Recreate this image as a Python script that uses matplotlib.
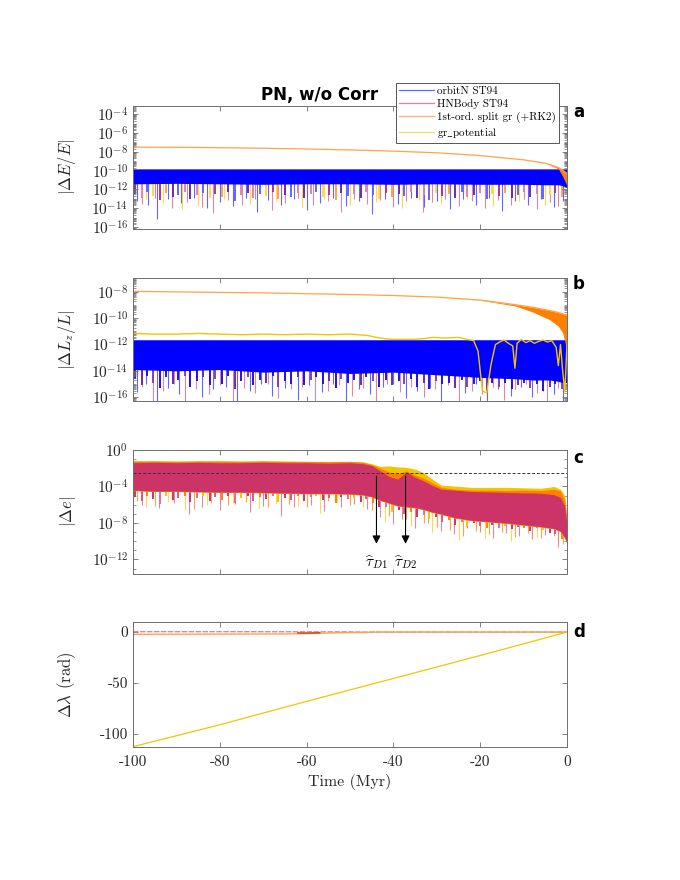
import numpy as np
import matplotlib
matplotlib.use('Agg')
import matplotlib.pyplot as plt
from matplotlib.ticker import FixedLocator, FuncFormatter, LogLocator, NullFormatter
from matplotlib.lines import Line2D

plt.rcParams['mathtext.fontset'] = 'cm'
plt.rcParams['font.family'] = 'cmr10'
plt.rcParams['axes.unicode_minus'] = False
plt.rcParams['axes.formatter.use_mathtext'] = True

# ---------------- data (log10 values) ----------------
SERIES = ['orbitN ST94', 'HNBody ST94', '1st-ord. split gr (+RK2)', 'gr$\\_$potential']
XTICKS = [-100, -80, -60, -40, -20, 0]

# shared time stamps of the dense noise fringe below the bands
FRINGE_T = [-99.5, -98, -96.8, -95.5, -93.7, -92.5, -90.8, -89.6, -88, -86.8, -85.2, -83.9, -82.3, -81, -79.4,
            -78.1, -76.5, -75.2, -73.6, -72.3, -70.7, -69.4, -67.8, -66.5, -64.9, -63.6, -62, -60.7, -59.1,
            -57.8, -56.2, -54.9, -53.3, -52, -50.4, -49.1, -47.5, -46.2, -44.6, -43.3, -41.7, -40.4, -38.8,
            -37.5, -35.9, -34.6, -33, -31.7, -30.1, -28.8, -27.2, -25.9, -24.3, -23, -21.4, -20.1, -18.5,
            -17.2, -15.6, -14.3, -12.7, -11.4, -9.8, -8.5, -6.9, -5.6, -4, -2.7, -1.1]

# panel a : |dE/E|
A_T = [-100, -90, -80, -70, -60, -50, -40, -30, -20, -10, -5, -2, -1, 0]
A_ORANGE_UP = [-7.50, -7.52, -7.56, -7.62, -7.70, -7.80, -7.93, -8.10, -8.40, -8.85, -9.20, -9.65, -9.95, -10.3]
A_ORANGE_LO = [-7.50, -7.52, -7.56, -7.62, -7.70, -7.80, -7.93, -8.10, -8.40, -8.85, -9.22, -9.80, -10.6, -11.6]
A_BLUE_TOP = [-9.78, -9.78, -9.78, -9.78, -9.78, -9.78, -9.78, -9.78, -9.78, -9.78, -9.78, -9.78, -9.78, -9.78]
A_BLUE_BOT = [-11.4, -11.35, -11.4, -11.45, -11.4, -11.4, -11.45, -11.4, -11.45, -11.45, -11.5, -11.5, -11.6, -11.8]
A_FRINGE_D = [-12.5, -12.9, -12.3, -12.7, -13.1, -12.4, -12.8, -12.6, -12.3, -13.0,
              -12.6, -12.4, -12.9, -12.5, -12.8, -12.3, -13.2, -12.6, -12.4, -12.9,
              -12.5, -12.7, -12.3, -13.0, -12.6, -12.8, -12.4, -12.9, -12.5, -12.3,
              -12.8, -12.6, -13.1, -12.4, -12.7, -12.5, -12.9, -12.3, -12.6, -13.0,
              -12.4, -12.8, -12.5, -12.7, -12.3, -12.9, -12.6, -13.1, -12.4, -12.7,
              -12.5, -12.9, -12.3, -12.8, -12.6, -12.4, -13.0, -12.5, -12.7, -12.4,
              -12.9, -12.6, -12.3, -12.8, -12.5, -13.0, -12.6, -12.4, -12.8]
A_BLUE_SPK_T = [-99, -96.5, -94.5, -92, -89, -86, -83, -80, -77, -74, -71.5, -69, -66, -63, -60, -57, -54, -51,
                -48, -45, -42, -39, -36, -33, -30, -27, -24, -21, -18, -15, -12, -9, -6, -3, -1]
A_BLUE_SPK_D = [-13.2, -13.6, -15.1, -13.0, -13.4, -12.9, -14.0, -13.3, -13.8, -12.9, -14.4, -13.1, -13.6, -13.0,
                -14.2, -13.4, -12.9, -13.8, -13.2, -14.6, -13.0, -13.5, -12.9, -13.9, -13.2, -14.1, -13.0, -13.6,
                -12.9, -14.3, -13.2, -13.7, -13.0, -13.9, -13.2]
A_PINK_SPK_T = [-98, -95, -91, -87.5, -84, -81.6, -78, -75, -72, -68, -65, -62, -58.5, -55, -52, -49, -46, -43,
                -40, -37, -33.2, -31, -28, -25, -22, -19, -16, -13, -10, -7, -4, -2]
A_PINK_SPK_D = [-13.5, -12.9, -14.0, -13.3, -13.9, -14.5, -13.1, -13.6, -13.0, -14.2, -13.4, -12.9, -13.7, -13.2,
                -14.4, -13.0, -13.5, -13.1, -13.9, -13.2, -14.4, -13.3, -13.0, -13.8, -13.2, -14.0, -13.1, -13.6,
                -13.0, -14.1, -13.3, -13.8]
A_YEL_SPK_T = [-97, -93, -88.7, -85, -79, -73, -67, -61, -56, -50, -44, -38, -34, -29, -23, -17, -11, -5]
A_YEL_SPK_D = [-13.0, -13.4, -14.1, -13.8, -13.0, -13.5, -13.2, -13.9, -13.0, -13.6, -13.3, -14.0, -13.1, -13.5,
               -13.0, -13.8, -13.2, -13.6]

# panel b : |dLz/L|
B_T = [-100, -90, -80, -70, -60, -50, -40, -30, -20, -12, -8, -4, -2, -1, 0]
B_ORANGE_UP = [-7.94, -7.98, -8.02, -8.06, -8.12, -8.18, -8.26, -8.38, -8.60, -8.95, -9.15, -9.40, -9.55, -9.65, -9.75]
B_ORANGE_LO = [-7.94, -7.98, -8.02, -8.06, -8.12, -8.18, -8.26, -8.38, -8.62, -9.05, -9.50, -10.1, -10.6, -11.1, -12.4]
B_BLUE_TOP = [-11.63, -11.63, -11.63, -11.63, -11.63, -11.63, -11.63, -11.63, -11.63, -11.63, -11.63, -11.63, -11.63, -11.63, -11.63]
B_BLUE_BOT = [-13.9, -14.0, -13.9, -14.1, -14.0, -14.2, -14.1, -14.3, -14.5, -14.6, -14.7, -14.7, -14.8, -14.9, -14.9]
B_FRINGE_D = [-14.6, -15.1, -14.4, -14.9, -15.3, -14.5, -15.0, -14.7, -14.4, -15.2,
              -14.8, -14.5, -15.1, -14.6, -15.0, -14.4, -15.4, -14.8, -14.5, -15.1,
              -14.7, -14.9, -14.4, -15.2, -14.8, -15.0, -14.5, -15.1, -14.7, -14.5,
              -15.0, -14.8, -15.3, -14.6, -14.9, -14.7, -15.1, -14.5, -14.8, -15.2,
              -14.7, -15.1, -14.8, -15.0, -14.6, -15.2, -14.9, -15.4, -14.8, -15.0,
              -14.9, -15.3, -14.7, -15.2, -15.0, -14.8, -15.5, -14.9, -15.2, -14.9,
              -15.4, -15.1, -14.9, -15.3, -15.0, -15.5, -15.2, -15.0, -15.4]
B_YEL_T = [-100, -95, -90, -85, -80, -75, -70, -65, -60, -55, -50, -46, -44, -42, -40, -36, -33, -31, -28, -25,
           -23, -21.5, -20.5, -19.5, -18.5, -17.5, -16.5, -15.5, -14.5, -13.5, -12.5, -12, -11.5, -10.5, -9.5,
           -8.5, -7.5, -6.5, -5.5, -4.5, -3.5, -2.5, -2, -1.5, -1, -0.5, 0]
B_YEL_V = [-11.15, -11.2, -11.2, -11.15, -11.2, -11.25, -11.2, -11.25, -11.2, -11.25, -11.2, -11.3, -11.45, -11.55,
           -11.6, -11.6, -11.55, -11.45, -11.5, -11.45, -11.6, -11.7, -12.5, -15.5, -15.7, -13.5, -12.0, -11.8,
           -11.65, -11.9, -12.1, -13.8, -11.9, -11.6, -11.85, -11.7, -11.9, -11.75, -11.65, -11.8, -11.7, -12.2,
           -13.6, -12.0, -14.0, -15.6, -12.0]
B_BLUE_SPK_T = [-99, -97, -94.5, -92, -89.5, -87, -84, -81.5, -78.5, -76, -73, -70.5, -68, -65, -62, -59.5, -56.5,
                -54, -51, -48, -45.5, -42.5, -40, -37, -34.5, -31.5, -29, -26, -23.5, -21, -18.5, -16, -13, -10.5,
                -8, -5.5, -3, -1]
B_BLUE_SPK_D = [-15.6, -15.0, -16.3, -15.3, -15.8, -15.1, -16.0, -15.4, -15.2, -16.3, -15.5, -15.0, -15.9, -15.3,
                -16.2, -15.1, -15.6, -15.0, -16.3, -15.4, -15.8, -15.2, -15.0, -16.1, -15.5, -15.3, -16.3, -15.2,
                -15.7, -15.0, -16.3, -15.4, -15.9, -15.2, -16.0, -15.5, -15.8, -16.3]
B_PINK_SPK_T = [-98, -95.5, -93, -90.5, -88, -85.5, -82.5, -80, -77, -74.5, -72, -69, -66.5, -63.5, -61, -58, -55,
                -52.5, -49.5, -47, -44, -41.5, -38.5, -36, -33, -30.5, -27.5, -25, -22, -19.5, -17, -14.5, -12,
                -9.5, -7, -4.5, -2]
B_PINK_SPK_D = [-15.2, -16.3, -15.5, -15.0, -16.3, -15.4, -15.8, -15.1, -16.3, -15.3, -15.7, -15.0, -16.1, -15.4,
                -15.2, -16.3, -15.5, -15.1, -15.9, -15.3, -16.3, -15.0, -15.6, -15.2, -16.0, -15.4, -15.1, -16.3,
                -15.5, -15.8, -15.2, -16.2, -15.4, -15.0, -15.7, -16.3, -15.3]

# panel c : |de|
C_T = [-100, -95, -90, -85, -80, -75, -70, -65, -60, -55, -50, -47, -45, -43, -41, -39, -37, -35, -33, -31, -29,
       -26, -22, -18, -14, -10, -6, -3, -1.5, -0.5, 0]
C_CRIM_TOP = [-1.4, -1.35, -1.4, -1.35, -1.4, -1.4, -1.35, -1.4, -1.4, -1.45, -1.4, -1.5, -1.7, -2.3, -2.9, -3.2,
              -2.4, -3.0, -3.4, -3.9, -4.3, -4.4, -4.55, -4.6, -4.65, -4.7, -4.75, -4.9, -5.2, -6.2, -8.4]
C_CRIM_BOT = [-4.4, -4.5, -4.5, -4.55, -4.6, -4.6, -4.65, -4.7, -4.75, -4.75, -4.8, -4.9, -5.1, -5.5, -5.8, -6.1,
              -6.2, -6.3, -6.5, -6.8, -7.0, -7.4, -7.7, -7.85, -8.0, -8.2, -8.4, -8.6, -8.9, -9.6, -10.2]
C_ORNG_TOP = [-1.2, -1.2, -1.25, -1.2, -1.2, -1.25, -1.2, -1.25, -1.25, -1.3, -1.25, -1.35, -1.6, -2.0, -2.4, -2.6,
              -2.3, -2.75, -3.1, -3.6, -4.1, -4.3, -4.4, -4.4, -4.45, -4.4, -4.45, -4.3, -4.5, -5.5, -7.7]
C_YEL_TOP = [-1.2, -1.2, -1.2, -1.2, -1.2, -1.2, -1.2, -1.2, -1.25, -1.25, -1.25, -1.3, -1.5, -1.8, -1.75, -1.85,
             -1.9, -2.1, -2.5, -3.2, -3.85, -3.95, -4.1, -4.1, -4.1, -4.15, -4.2, -4.0, -4.3, -5.0, -7.7]
C_LOW_BOT = [-4.45, -4.55, -4.55, -4.6, -4.65, -4.65, -4.7, -4.75, -4.8, -4.8, -4.85, -4.95, -5.15, -5.55, -5.85,
             -6.15, -6.25, -6.35, -6.55, -6.85, -7.05, -7.45, -7.75, -7.9, -8.05, -8.25, -8.45, -8.65, -8.95, -9.7, -10.3]
C_FRINGE_D = [-5.2, -5.6, -5.0, -5.4, -5.9, -5.1, -5.5, -5.3, -5.0, -5.7,
              -5.3, -5.1, -5.6, -5.2, -5.5, -5.0, -5.8, -5.3, -5.1, -5.6,
              -5.2, -5.4, -5.0, -5.7, -5.3, -5.5, -5.1, -5.6, -5.2, -5.0,
              -5.5, -5.3, -5.8, -5.2, -5.4, -5.3, -5.7, -5.4, -5.8, -6.3,
              -6.2, -6.8, -6.6, -7.0, -6.8, -7.3, -7.1, -7.6, -7.4, -7.9,
              -7.7, -8.2, -7.9, -8.4, -8.0, -8.3, -8.6, -8.2, -8.5, -8.3,
              -8.7, -8.4, -8.6, -8.9, -8.5, -8.8, -9.1, -9.2, -9.8]
C_PINK_SPK_T = [-98, -94, -90.5, -87, -84, -80, -76.5, -73, -70, -66, -63, -59, -56, -52, -49, -46, -43, -40, -38,
                -35, -32, -29, -26, -23, -20, -17, -14, -11, -8, -5, -2]
C_PINK_SPK_D = [-6.0, -6.4, -5.8, -7.0, -6.2, -6.6, -5.9, -6.8, -6.1, -7.2, -6.3, -6.0, -6.7, -6.2, -5.9, -6.5,
                -7.4, -8.1, -7.6, -8.6, -8.0, -8.9, -9.2, -8.6, -9.0, -9.6, -9.1, -9.4, -9.8, -9.3, -10.5]
C_ORNG_SPK_T = [-99, -95, -91, -86, -82, -78, -74, -69, -64, -60, -55, -50, -45, -41, -37, -33, -30, -27, -24, -21,
                -18, -15, -12, -9, -6, -3, -1]
C_ORNG_SPK_D = [-5.6, -6.1, -5.5, -6.5, -5.8, -6.0, -5.7, -6.3, -5.9, -6.2, -5.6, -6.0, -6.6, -7.2, -7.6, -8.0,
                -8.4, -8.8, -9.4, -8.9, -9.2, -9.0, -9.5, -9.1, -9.7, -9.4, -10.3]
C_YEL_SPK_T = [-97, -92, -88, -83, -77, -71, -67, -62, -57, -53, -47, -42, -36, -31, -25, -19, -13, -7, -2]
C_YEL_SPK_D = [-6.2, -5.7, -6.6, -6.0, -5.8, -6.4, -5.9, -6.1, -6.9, -5.8, -6.3, -7.8, -8.3, -9.0, -9.9, -9.6,
               -10.0, -9.5, -10.8]
C_THRESH = -2.56
C_TAU_T = [-43.9, -37.2]
C_TAU_LABELS = [r'$\widehat{\tau}_{D1}$', r'$\widehat{\tau}_{D2}$']

# panel d : d lambda (rad)
D_YEL_T = [-100, -80, -60, -40, -20, 0]
D_YEL_V = [-112.5, -91.0, -68.0, -45.5, -23.0, 0.0]
D_ORNG_T = [-100, -80, -65, -60, -56, -50, -46, -44, 0]
D_ORNG_V = [-2.2, -2.0, -1.8, -1.5, -1.0, -0.5, -0.3, 0.0, 0.0]
D_PINK_T = [-100, -80, -60, -50, -48, 0]
D_PINK_V = [0.4, 0.4, 0.3, 0.2, 0.0, 0.0]
D_RED_T = [-62, -60, -57]
D_RED_V = [-0.9, -1.0, -0.7]

# ---------------- styling ----------------
BLUE = '#0000ff'
BLUE_L = '#6464ff'
PINK = '#cc3366'
PINK_L = '#df85a8'
ORANGE = '#ff8000'
ORANGE_L = '#ffa347'
YELLOW = '#efc600'
YELLOW_L = '#ffd84d'
PURPLE = '#6a2bb0'
FRAME = '#6e6e6e'
FRINGE_COLORS_A = [PURPLE, PINK_L, BLUE_L, YELLOW_L, '#b0358a', ORANGE_L, PURPLE, BLUE_L, PINK_L]
FRINGE_COLORS_B = ['#2a10d8', PURPLE, '#2a10d8', '#8a3fb0', '#2a10d8']
FRINGE_COLORS_C = [PINK, '#d9577f', ORANGE, PINK, '#e0708f', YELLOW]

W, H = 680.0, 880.0
fig = plt.figure(figsize=(6.8, 8.8), dpi=100)


def add_ax(top, bottom):
    return fig.add_axes([133 / W, 1 - bottom / H, 434 / W, (bottom - top) / H])


axa = add_ax(105.7, 229.0)
axb = add_ax(277.7, 401.0)
axc = add_ax(450.0, 574.0)
axd = add_ax(622.3, 746.7)

P = lambda v: np.power(10.0, np.asarray(v, dtype=float))


def spikes(ax, t, top, d, color, lw=0.8, alpha=1.0, z=1):
    ax.vlines(t, P(top), P(d), colors=color, lw=lw, alpha=alpha, zorder=z)


def cyc(colors, n):
    return [colors[i % len(colors)] for i in range(n)]


# panel a
spikes(axa, A_PINK_SPK_T, -11.0, A_PINK_SPK_D, PINK_L, z=1)
spikes(axa, A_YEL_SPK_T, -11.0, A_YEL_SPK_D, YELLOW_L, z=1.1)
spikes(axa, A_BLUE_SPK_T, -11.0, A_BLUE_SPK_D, BLUE_L, z=1.2)
spikes(axa, FRINGE_T, -11.0, A_FRINGE_D, cyc(FRINGE_COLORS_A, len(FRINGE_T)), lw=1.4, z=1.3)
axa.fill_between(A_T, P(A_BLUE_TOP), P(A_BLUE_BOT), color=BLUE, lw=0, zorder=2)
axa.plot(A_T, P(A_BLUE_TOP), color=PINK_L, lw=0.6, alpha=0.7, zorder=2.1)
axa.fill_between(A_T, P(A_ORANGE_UP), P(A_ORANGE_LO), color=ORANGE, lw=0, zorder=3)
axa.plot(A_T, P(A_ORANGE_UP), color=ORANGE_L, lw=0.9, zorder=3)
axa.set_yscale('log')
axa.set_ylim(10 ** -16.2, 10 ** -3.1)
axa.yaxis.set_major_locator(FixedLocator(P([-16, -14, -12, -10, -8, -6, -4])))

# panel b
spikes(axb, B_PINK_SPK_T, -13.0, B_PINK_SPK_D, PINK_L, z=1)
spikes(axb, B_BLUE_SPK_T, -13.0, B_BLUE_SPK_D, BLUE_L, z=1.1)
spikes(axb, FRINGE_T, -13.0, B_FRINGE_D, cyc(FRINGE_COLORS_B, len(FRINGE_T)), lw=1.4, z=1.2)
axb.fill_between(B_T, P(B_BLUE_TOP), P(B_BLUE_BOT), color=BLUE, lw=0, zorder=2)
axb.fill_between(B_T, P(B_ORANGE_UP), P(B_ORANGE_LO), color=ORANGE, lw=0, zorder=3)
axb.plot(B_T, P(B_ORANGE_UP), color=ORANGE_L, lw=0.9, zorder=3)
axb.plot(B_YEL_T, P(B_YEL_V), color=YELLOW, lw=1.0, zorder=4)
axb.set_yscale('log')
axb.set_ylim(10 ** -16.3, 10 ** -6.9)
axb.yaxis.set_major_locator(FixedLocator(P([-16, -14, -12, -10, -8])))


# panel c  (spikes start one decade above the local band bottom, hidden inside the band)
def c_start(t):
    return np.interp(t, C_T, C_CRIM_BOT) + 1.0


spikes(axc, C_YEL_SPK_T, c_start(C_YEL_SPK_T), C_YEL_SPK_D, YELLOW_L, z=1)
spikes(axc, C_ORNG_SPK_T, c_start(C_ORNG_SPK_T), C_ORNG_SPK_D, ORANGE_L, z=1.1)
spikes(axc, C_PINK_SPK_T, c_start(C_PINK_SPK_T), C_PINK_SPK_D, PINK_L, z=1.2)
spikes(axc, FRINGE_T, c_start(FRINGE_T), C_FRINGE_D, cyc(FRINGE_COLORS_C, len(FRINGE_T)), lw=1.4, z=1.3)
axc.fill_between(C_T, P(C_YEL_TOP), P(C_LOW_BOT), color=YELLOW, lw=0, zorder=2)
axc.fill_between(C_T, P(C_ORNG_TOP), P(C_LOW_BOT), color=ORANGE, lw=0, zorder=2.1)
axc.fill_between(C_T, P(C_CRIM_TOP), P(C_CRIM_BOT), color=PINK, lw=0, zorder=2.2)
axc.axhline(10 ** C_THRESH, color='#333333', lw=0.7, ls=(0, (3, 2)), zorder=5)
for tt, lab in zip(C_TAU_T, C_TAU_LABELS):
    axc.annotate('', xy=(tt, 10 ** -10.6), xytext=(tt, 10 ** C_THRESH),
                 arrowprops=dict(arrowstyle='-|>', color='black', lw=0.8, mutation_scale=12), zorder=6)
    axc.text(tt, 10 ** -12.35, lab, ha='center', va='center', fontsize=11, zorder=6)
axc.set_yscale('log')
axc.set_ylim(10 ** -13.6, 10 ** 0)
axc.yaxis.set_major_locator(FixedLocator(P([-12, -8, -4, 0])))

# panel d
axd.plot(D_YEL_T, D_YEL_V, color=YELLOW, lw=0.9, zorder=3)
axd.plot(D_PINK_T, D_PINK_V, color=PINK_L, lw=1.0, ls=(0, (4, 1)), zorder=2)
axd.plot(D_ORNG_T, D_ORNG_V, color=ORANGE_L, lw=1.0, zorder=2.5)
axd.plot(D_RED_T, D_RED_V, color='#e04a1a', lw=1.2, zorder=2.6)
axd.set_ylim(-112.5, 9.6)
axd.set_yticks([-100, -50, 0])
axd.yaxis.set_major_formatter(FuncFormatter(lambda v, p: '%d' % v))

logfmt = FuncFormatter(lambda v, p: r'$10^{%d}$' % int(round(np.log10(v))))
for ax in (axa, axb, axc):
    ax.yaxis.set_major_formatter(logfmt)
    ax.yaxis.set_minor_formatter(NullFormatter())
for ax in (axa, axb):
    ax.yaxis.set_minor_locator(LogLocator(base=10, subs=np.arange(1, 10), numticks=200))
axc.yaxis.set_minor_locator(LogLocator(base=10, subs=(1.0,), numticks=200))

for ax in (axa, axb, axc, axd):
    ax.set_xlim(-100, 0)
    ax.set_xticks(XTICKS)
    ax.tick_params(which='both', direction='in', top=True, right=True, color=FRAME,
                   labelsize=11, labelcolor='#262626')
    ax.tick_params(which='major', length=3.5, width=0.6)
    ax.tick_params(which='minor', length=2, width=0.5)
    for s in ax.spines.values():
        s.set_color(FRAME)
        s.set_linewidth(0.7)
        s.set_zorder(8)
    if ax is not axd:
        ax.tick_params(labelbottom=False)
axd.xaxis.set_major_formatter(FuncFormatter(lambda v, p: '%d' % v))
axd.tick_params(axis='x', pad=6)

ylabels = [r'$|\Delta E/E|$', r'$|\Delta L_z/L|$', r'$|\Delta e|$', r'$\Delta\lambda$ (rad)']
for ax, lab in zip((axa, axb, axc, axd), ylabels):
    ax.set_ylabel(lab, fontsize=12, color='#262626')
    ax.yaxis.set_label_coords((78 - 133) / 434.0, 0.5)
axd.set_xlabel('Time (Myr)', fontsize=11.5, color='#262626', labelpad=4)

# panel letters and title
for lab, yc in zip('abcd', [112, 284, 458, 632]):
    fig.text(573 / W, 1 - yc / H, lab, fontsize=12, fontweight='bold', family='DejaVu Sans',
             ha='left', va='center')
fig.text(319.5 / W, 1 - 100 / H, 'PN, w/o Corr', fontsize=12, fontweight='bold', family='DejaVu Sans',
         ha='center', va='baseline')

handles = [Line2D([], [], color=c, lw=0.9, alpha=0.6) for c in (BLUE, PINK, ORANGE, YELLOW)]
leg = fig.legend(handles, SERIES, loc='upper left', bbox_to_anchor=(396 / W, 1 - 83 / H), frameon=True,
                 fancybox=False, edgecolor='#555555', framealpha=1.0, fontsize=8, handlelength=3.1,
                 handletextpad=0.3, borderpad=0.3, labelspacing=0.25, borderaxespad=0.0)
leg.get_frame().set_linewidth(0.7)
leg.set_zorder(10)

fig.savefig('out.png', dpi=100)
